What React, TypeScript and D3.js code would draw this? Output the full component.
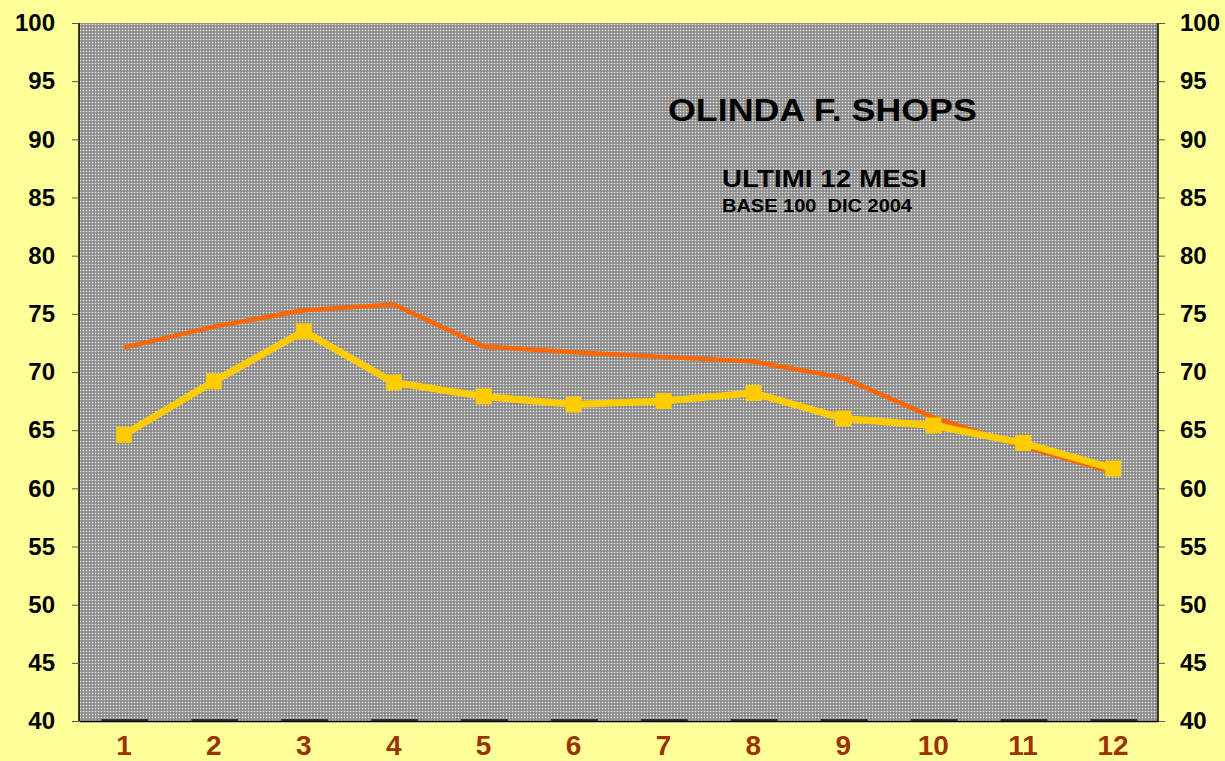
import React, { useEffect, useRef } from 'react';
import * as d3 from 'd3';

const months = ['1', '2', '3', '4', '5', '6', '7', '8', '9', '10', '11', '12'];
const orangeSeries = [72.1, 73.9, 75.3, 75.8, 72.2, 71.7, 71.3, 70.9, 69.5, 66.1, 63.6, 61.4];
const yellowSeries = [64.6, 69.2, 73.5, 69.1, 67.9, 67.2, 67.5, 68.2, 66.0, 65.4, 63.9, 61.7];
const baseBars = [40, 40, 40, 40, 40, 40, 40, 40, 40, 40, 40, 40];
const yTicks = [40, 45, 50, 55, 60, 65, 70, 75, 80, 85, 90, 95, 100];

const W = 1225;
const H = 761;
const margin = { top: 23, right: 67, bottom: 40, left: 79 };

const App = () => {
  const svgRef = useRef<SVGSVGElement>(null);

  useEffect(() => {
    const svg = d3.select(svgRef.current);
    svg.selectAll('*').remove();

    const innerW = W - margin.left - margin.right;
    const innerH = H - margin.top - margin.bottom;

    const x = d3.scaleBand().domain(months).range([0, innerW]);
    const y = d3.scaleLinear().domain([40, 100]).range([innerH, 0]);

    // dotted gray fill
    const defs = svg.append('defs');
    const pat = defs.append('pattern')
      .attr('id', 'dots')
      .attr('width', 3)
      .attr('height', 3)
      .attr('patternUnits', 'userSpaceOnUse');
    pat.append('rect').attr('width', 3).attr('height', 3).attr('fill', '#8a8a8a');
    pat.append('rect').attr('x', 0).attr('y', 1).attr('width', 3).attr('height', 1).attr('fill', '#a2a2a2');
    pat.append('rect').attr('x', 1).attr('y', 0).attr('width', 1).attr('height', 3).attr('fill', '#a2a2a2');
    pat.append('rect').attr('x', 1).attr('y', 1).attr('width', 1).attr('height', 1).attr('fill', '#e6e6e6');

    svg.append('rect').attr('width', W).attr('height', H).attr('fill', '#ffff99');

    const g = svg.append('g').attr('transform', `translate(${margin.left},${margin.top})`);

    g.append('rect')
      .attr('width', innerW)
      .attr('height', innerH)
      .attr('fill', 'url(#dots)');

    // flat bars sitting on the base
    g.selectAll('rect.base')
      .data(baseBars)
      .join('rect')
      .attr('class', 'base')
      .attr('x', (_, i) => x(months[i])! + x.bandwidth() * 0.25)
      .attr('width', x.bandwidth() * 0.52)
      .attr('y', (d) => y(d) - 2)
      .attr('height', 2)
      .attr('fill', '#333333');

    // axes
    const font = '"Liberation Sans", Arial, sans-serif';
    const left = g.append('g').call(d3.axisLeft(y).tickValues(yTicks).tickSize(7).tickPadding(17));
    const right = g.append('g')
      .attr('transform', `translate(${innerW},0)`)
      .call(d3.axisRight(y).tickValues(yTicks).tickSize(7).tickPadding(15));
    [left, right].forEach((ax) => {
      ax.select('.domain').attr('stroke', '#000').attr('stroke-width', 1.5);
      ax.selectAll('.tick line').attr('stroke', '#555');
      ax.selectAll('.tick text')
        .attr('font-family', font)
        .attr('font-weight', 'bold')
        .attr('font-size', 24)
        .attr('fill', '#000');
    });
    left.select('.domain').attr('d', `M0,0V${innerH}`);
    right.select('.domain').attr('d', `M0,0V${innerH}`);

    const bottom = g.append('g')
      .attr('transform', `translate(0,${innerH})`)
      .call(d3.axisBottom(x).tickSize(0).tickPadding(14));
    bottom.select('.domain').attr('stroke', '#000').attr('stroke-width', 1.5);
    bottom.selectAll('.tick text')
      .attr('font-family', font)
      .attr('font-weight', 'bold')
      .attr('font-size', 28)
      .attr('fill', '#993300');

    const cx = (i: number) => x(months[i])! + x.bandwidth() / 2;
    const line = d3.line<number>().x((_, i) => cx(i)).y((d) => y(d));

    g.append('path')
      .datum(orangeSeries)
      .attr('d', line)
      .attr('fill', 'none')
      .attr('stroke', '#ff6600')
      .attr('stroke-width', 4.5);

    g.append('path')
      .datum(yellowSeries)
      .attr('d', line)
      .attr('fill', 'none')
      .attr('stroke', '#ffcc00')
      .attr('stroke-width', 7);

    g.selectAll('rect.mk')
      .data(yellowSeries)
      .join('rect')
      .attr('class', 'mk')
      .attr('x', (_, i) => cx(i) - 8)
      .attr('y', (d) => y(d) - 8)
      .attr('width', 16)
      .attr('height', 16)
      .attr('fill', '#ffcc00');

    // titles, stretched horizontally like the original
    const stretched = (txt: string, x0: number, y0: number, size: number, width: number) => {
      const t = svg.append('text')
        .attr('font-family', font)
        .attr('font-weight', 'bold')
        .attr('font-size', size)
        .style('white-space', 'pre')
        .text(txt);
      const w = (t.node() as SVGTextElement).getComputedTextLength();
      const sx = w > 0 ? width / w : 1;
      t.attr('transform', `translate(${x0},${y0}) scale(${sx},1)`);
    };
    stretched('OLINDA F. SHOPS', 668, 121, 31, 309);
    stretched('ULTIMI 12 MESI', 722, 187, 24, 205);
    stretched('BASE 100  DIC 2004', 722, 212, 19, 190);
  }, []);

  return (
    <div style={{ position: 'absolute', left: 0, top: 0 }}>
      <svg ref={svgRef} width={W} height={H} style={{ display: 'block' }}></svg>
    </div>
  );
};

export default App;
